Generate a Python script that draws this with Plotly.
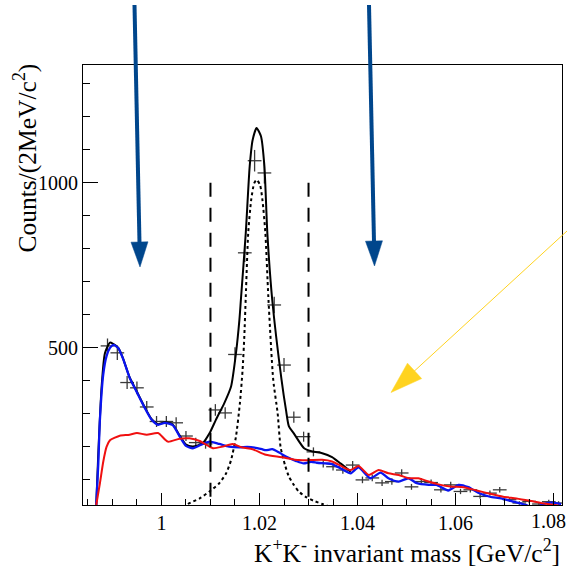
import plotly.graph_objects as go

# ---------------- data ----------------
# measured K+K- invariant mass histogram (2 MeV bins)
mass = [0.989, 0.991, 0.993, 0.995, 0.997, 0.999, 1.001, 1.003, 1.005, 1.007,
        1.009, 1.011, 1.013, 1.015, 1.017, 1.019, 1.021, 1.023, 1.025, 1.027,
        1.029, 1.031, 1.033, 1.035, 1.037, 1.039, 1.041, 1.043, 1.045, 1.047,
        1.049, 1.051, 1.053, 1.055, 1.057, 1.059, 1.061, 1.063, 1.065, 1.067,
        1.069, 1.071, 1.073, 1.075, 1.077, 1.079, 1.081]
counts = [506, 485, 395, 379, 321, 277, 277, 273, 233, 213,
          209, 312, 303, 480, 788, 1067, 1030, 630, 448, 290,
          231, 185, 150, 140, 130, 145, 100, 106, 91, 95,
          121, 79, 95, 92, 70, 85, 65, 70, 50, 60,
          70, 40, 30, 35, 27, 34, 30]

# total fit (black solid)
total_x = [0.9867, 0.98712, 0.9878, 0.98847, 0.9895, 0.99015, 0.9912, 0.9922, 0.9935, 0.9949,
           0.9966, 0.998, 0.9993, 1.0007, 1.0023, 1.0037, 1.005, 1.0064, 1.0084, 1.0098,
           1.0111, 1.0128, 1.0142, 1.0152, 1.0159, 1.0162, 1.0172, 1.018, 1.0186, 1.0194,
           1.0203, 1.021, 1.0216, 1.0226, 1.0245, 1.0254, 1.026, 1.027, 1.0291, 1.0308,
           1.0328, 1.0348, 1.0365, 1.0386]
total_y = [24, 181, 383, 484, 516, 512, 500, 467, 411, 370,
           320, 284, 269, 275, 268, 235, 207, 201, 211, 241,
           282, 332, 383, 484, 585, 645, 848, 1050, 1130, 1166,
           1141, 1050, 848, 645, 403, 312, 262, 241, 196, 186,
           181, 169, 150, 125]

# signal shape (black dotted)
signal_x = [1.0045, 1.0054, 1.0078, 1.0098, 1.0118, 1.0132, 1.0142, 1.0152, 1.016, 1.01655,
            1.0169, 1.0172, 1.0177, 1.0183, 1.0189, 1.0194, 1.0201, 1.0206, 1.0212, 1.0218,
            1.0228, 1.0237, 1.0243, 1.0252, 1.026, 1.027, 1.028, 1.0295, 1.031, 1.0328, 1.0345]
signal_y = [15, 27, 44, 65, 90, 120, 160, 231, 332, 433,
            534, 655, 848, 948, 998, 1009, 994, 948, 848, 655,
            403, 302, 200, 145, 110, 85, 65, 48, 37, 27, 18]

# background model A (blue)
bkg_a_x = [0.9867, 0.98712, 0.98745, 0.98813, 0.9888, 0.9895, 0.9902, 0.9912, 0.9922, 0.9935,
           0.9949, 0.9966, 0.998, 0.9993, 1.0007, 1.0023, 1.0037, 1.005, 1.0064, 1.008,
           1.0098, 1.0118, 1.0138, 1.0159, 1.0175, 1.019, 1.0205, 1.0213, 1.0226, 1.024,
           1.0255, 1.0275, 1.029, 1.0305, 1.0318, 1.0335, 1.0348, 1.0369, 1.0386, 1.0402,
           1.0426, 1.0447, 1.0463, 1.0484, 1.0504, 1.0521, 1.0545, 1.0561, 1.0585, 1.0606,
           1.0626, 1.0646, 1.067, 1.0693, 1.0717, 1.0737, 1.0755, 1.0768, 1.0778, 1.0795, 1.0815]
bkg_a_y = [24, 150, 282, 420, 475, 500, 509, 499, 466, 410,
           368, 318, 282, 267, 273, 266, 232, 203, 196, 206,
           216, 209, 201, 199, 200, 198, 193, 190, 193, 183,
           170, 157, 150, 155, 152, 150, 148, 132, 120, 138,
           105, 122, 105, 95, 105, 90, 85, 85, 68, 85,
           78, 61, 49, 44, 34, 27, 18, 18, 27, 31, 27]

# background model B (red)
bkg_b_x = [0.9867, 0.98745, 0.98813, 0.9888, 0.9895, 0.9905, 0.9915, 0.9935, 0.995, 0.997,
           0.9993, 1.0013, 1.0037, 1.0057, 1.0078, 1.0105, 1.0125, 1.0145, 1.0165, 1.0186,
           1.0213, 1.0245, 1.028, 1.0301, 1.0328, 1.0348, 1.0369, 1.0386, 1.0402, 1.0423,
           1.0443, 1.0463, 1.0484, 1.0504, 1.0524, 1.0545, 1.0561, 1.0589, 1.0616, 1.0643,
           1.067, 1.0697, 1.0724, 1.0751, 1.0778, 1.0802, 1.0815]
bkg_b_y = [24, 90, 155, 200, 220, 228, 234, 237, 242, 237,
           242, 216, 225, 226, 218, 196, 201, 209, 198, 193,
           176, 169, 160, 160, 161, 156, 140, 130, 142, 115,
           130, 120, 115, 105, 105, 95, 88, 80, 78, 68,
           58, 49, 44, 37, 29, 24, 20]

# signal window edges
window_edges = [1.01, 1.03]
window_top = 1000

x_tick_vals = [1.00, 1.02, 1.04, 1.06, 1.08]
x_tick_text = ["1", "1.02", "1.04", "1.06", "1.08"]
y_tick_vals = [500, 1000]
y_tick_text = ["500", "1000"]

X_RANGE = [0.984, 1.0817]
Y_RANGE = [24, 1357]

# ---------------- figure ----------------
fig = go.Figure()

fig.add_trace(go.Scatter(
    x=mass, y=counts, mode="markers",
    marker=dict(size=1, color="rgba(0,0,0,0)"),
    error_x=dict(type="constant", value=0.0014, color="#3a3a3a", thickness=1.3, width=0),
    error_y=dict(type="sqrt", color="#3a3a3a", thickness=1.3, width=0),
    hoverinfo="skip"))

fig.add_trace(go.Scatter(x=signal_x, y=signal_y, mode="lines",
                         line=dict(color="black", width=2, dash="3px,3px", shape="spline", smoothing=0.6)))
fig.add_trace(go.Scatter(x=total_x, y=total_y, mode="lines",
                         line=dict(color="black", width=2, shape="spline", smoothing=0.6)))
fig.add_trace(go.Scatter(x=bkg_a_x, y=bkg_a_y, mode="lines",
                         line=dict(color="#0a14f0", width=2.3, shape="spline", smoothing=0.6)))
fig.add_trace(go.Scatter(x=bkg_b_x, y=bkg_b_y, mode="lines",
                         line=dict(color="#f01010", width=2, shape="spline", smoothing=0.6)))

shapes = []
for xe in window_edges:
    shapes.append(dict(type="line", xref="x", yref="y", x0=xe, x1=xe,
                       y0=window_top, y1=Y_RANGE[0],
                       line=dict(color="black", width=2, dash="14px,11px")))

# annotation arrows (pixel positions -> paper coords)
L, R, T, B = 83, 562, 65, 505
def px(xp):
    return (xp - L) / (R - L)
def py(yp):
    return (B - yp) / (B - T)

def arrow(x_top, y_top, x_tip, y_tip, head_len, head_w, color, width):
    import math
    dx, dy = x_tip - x_top, y_tip - y_top
    n = math.hypot(dx, dy)
    ux, uy = dx / n, dy / n
    bx, by = x_tip - ux * head_len, y_tip - uy * head_len
    nx, ny = -uy, ux
    c1 = (bx + nx * head_w / 2, by + ny * head_w / 2)
    c2 = (bx - nx * head_w / 2, by - ny * head_w / 2)
    out = [dict(type="line", xref="paper", yref="paper",
                x0=px(x_top), y0=py(y_top), x1=px(bx + ux * 2), y1=py(by + uy * 2),
                line=dict(color=color, width=width))]
    path = "M {:.5f},{:.5f} L {:.5f},{:.5f} L {:.5f},{:.5f} Z".format(
        px(x_tip), py(y_tip), px(c1[0]), py(c1[1]), px(c2[0]), py(c2[1]))
    out.append(dict(type="path", xref="paper", yref="paper", path=path,
                    fillcolor=color, line=dict(color=color, width=0.5)))
    return out

shapes += arrow(134.5, 5, 140, 267, 25, 17, "#00468C", 4)
shapes += arrow(369, 5, 374.5, 266, 25, 17, "#00468C", 4)
shapes += arrow(567, 231, 391, 392.5, 32, 21, "#FFD320", 1)

# the last x label would overflow the page edge -> drawn as an annotation flush with the edge
last_label = x_tick_text[-1]

fig.update_layout(
    width=567, height=570,
    margin=dict(l=L, r=567 - R, t=T, b=570 - B, pad=0),
    paper_bgcolor="white", plot_bgcolor="white",
    showlegend=False,
    font=dict(family="Liberation Serif", size=20, color="black"),
    shapes=shapes,
    xaxis=dict(range=X_RANGE, showline=True, linecolor="black", linewidth=1, mirror=True,
               ticks="inside", ticklen=12, tickwidth=1, tickcolor="black",
               tickmode="array", tickvals=x_tick_vals, ticktext=x_tick_text[:-1] + [""],
               minor=dict(ticks="inside", tickmode="linear", tick0=1.0, dtick=0.005,
                          ticklen=6, tickcolor="black", tickwidth=1, showgrid=False),
               showgrid=False, zeroline=False, tickfont=dict(size=20)),
    yaxis=dict(range=Y_RANGE, showline=True, linecolor="black", linewidth=1, mirror=True,
               ticks="inside", ticklen=15, tickwidth=1, tickcolor="black",
               tickmode="array", tickvals=y_tick_vals, ticktext=y_tick_text,
               minor=dict(ticks="inside", tickmode="linear", tick0=0, dtick=100,
                          ticklen=7, tickcolor="black", tickwidth=1, showgrid=False),
               showgrid=False, zeroline=False, tickfont=dict(size=20)),
    annotations=[
        dict(text="K<sup>+</sup>K<sup>-</sup> invariant mass [GeV/c<sup>2</sup>]",
             xref="paper", yref="paper", x=1.0, y=py(551), xanchor="right", yanchor="middle",
             showarrow=False, font=dict(size=25.5)),
        dict(text="Counts/(2MeV/c<sup>2</sup>)", textangle=-90,
             xref="paper", yref="paper", x=px(26), y=py(62), xanchor="center", yanchor="top",
             showarrow=False, font=dict(size=25.5)),
        dict(text=last_label, xref="paper", yref="paper", x=px(567), y=py(521),
             xanchor="right", yanchor="middle", showarrow=False, font=dict(size=20),
             borderpad=0),
    ],
)

fig.write_html("out.html", config={"displayModeBar": False},
               post_script="document.body.style.margin='0px';document.body.style.padding='0px';")
